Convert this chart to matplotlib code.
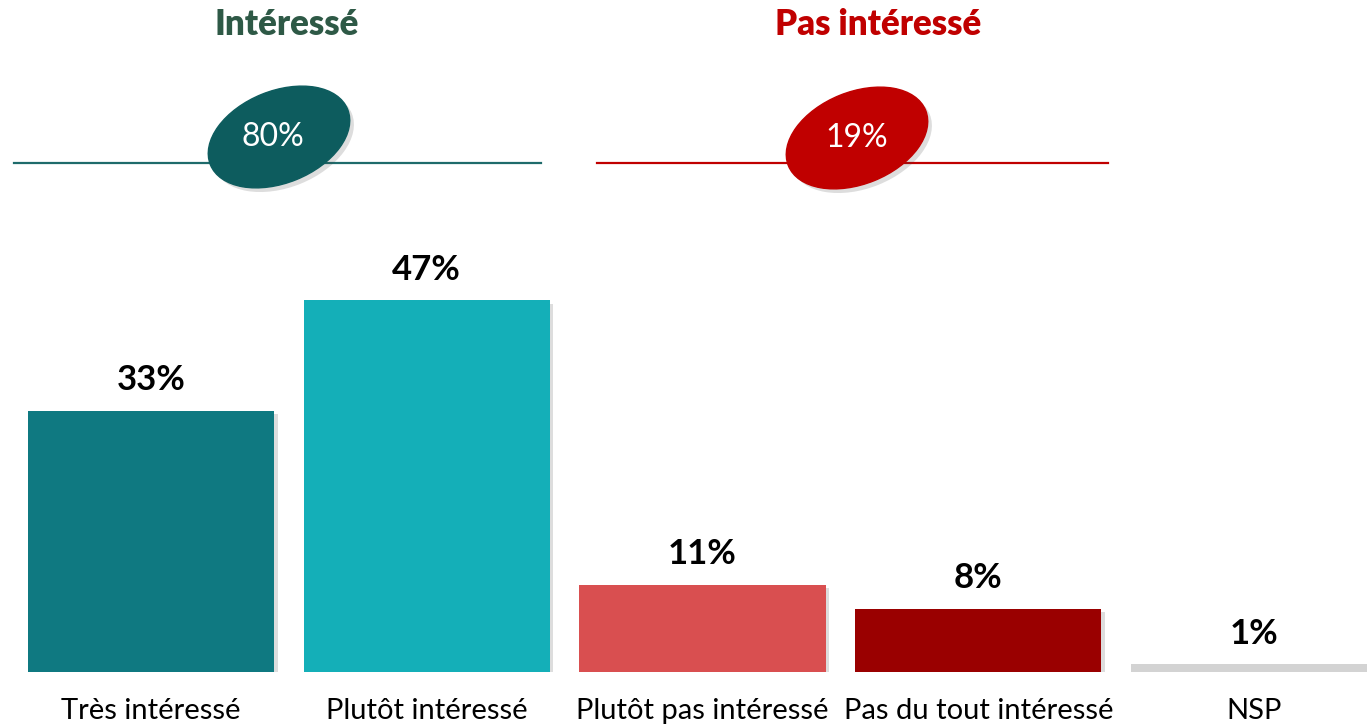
import matplotlib.pyplot as plt
import matplotlib.patheffects as pe
from matplotlib.patches import Ellipse

plt.rcParams['font.family'] = ['Lato', 'DejaVu Sans']

# data
categories = ["Très intéressé", "Plutôt intéressé", "Plutôt pas intéressé",
              "Pas du tout intéressé", "NSP"]
values = [33, 47, 11, 8, 1]
bar_colors = ["#0F7981", "#14AFB8", "#D94F50", "#9A0000", "#D3D3D3"]

group_names = ["Intéressé", "Pas intéressé"]
group_totals = [80, 19]
group_colors = ["#2E5946", "#C00000"]
ellipse_colors = ["#0D5C5E", "#C00000"]
line_colors = ["#1E6B6B", "#C00000"]

W, H = 1367, 725
fig = plt.figure(figsize=(W / 100, H / 100), dpi=100)

# bar area
spacing = 275.75
x0 = 151
ax = fig.add_axes([0, 53 / H, 1, 395.5 / H])
bars = ax.bar(range(len(values)), values, width=0.893, color=bar_colors)
for b in bars:
    b.set_path_effects([pe.SimplePatchShadow(offset=(2.5, -2.5), alpha=0.18, shadow_rgbFace="#444444"),
                        pe.Normal()])
ax.set_xlim(-x0 / spacing, (W - x0) / spacing)
ax.set_ylim(0, 50)
ax.axis("off")
for i, v in enumerate(values):
    ax.annotate(f"{v}%", (i, v), xytext=(0, 22), textcoords="offset points",
                ha="center", va="center", fontsize=25, fontweight="bold", color="black")
    ax.annotate(categories[i], (i, 0), xytext=(0, -28), textcoords="offset points",
                ha="center", va="center", fontsize=21, color="black",
                annotation_clip=False)

# header area in pixel coordinates
top = fig.add_axes([0, 0, 1, 1], zorder=-1)
top.set_xlim(0, W)
top.set_ylim(H, 0)
top.axis("off")
top.patch.set_alpha(0)

heading_x = [287, 878]
line_spans = [(14, 541), (597, 1108)]
ellipse_centers = [(279, 137), (857, 138)]
for k in range(2):
    top.text(heading_x[k], 24, group_names[k], ha="center", va="center",
             fontsize=25, fontweight="heavy", color=group_colors[k])
    top.plot(line_spans[k], [163, 163], color=line_colors[k], lw=1.6)
    e = Ellipse(ellipse_centers[k], 148, 92, angle=-22, color=ellipse_colors[k], zorder=3)
    e.set_path_effects([pe.SimplePatchShadow(offset=(3, -3), alpha=0.18, shadow_rgbFace="#444444"),
                        pe.Normal()])
    top.add_patch(e)
    top.text(ellipse_centers[k][0] - 6 * (k == 0), ellipse_centers[k][1], f"{group_totals[k]}%",
             ha="center", va="center", fontsize=23, fontweight="normal", color="white", zorder=4)

fig.savefig("out.png", dpi=100)
